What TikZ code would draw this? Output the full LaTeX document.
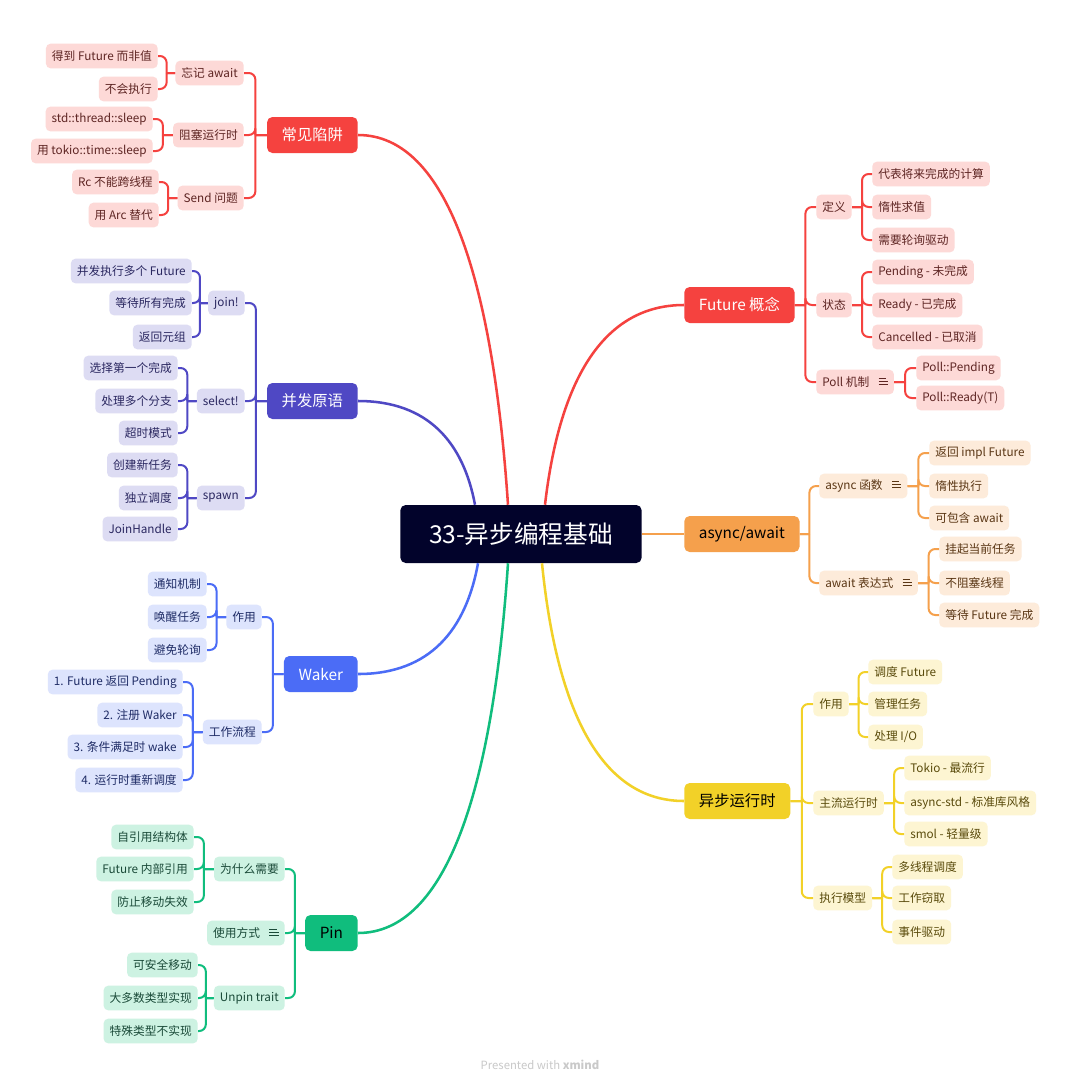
\documentclass[tikz,border=0pt]{standalone}
\usepackage{fontspec}
\setmainfont{Noto Sans CJK SC}
\usepackage{xcolor}
\usetikzlibrary{calc}

\definecolor{rootC}{HTML}{02032B}
\definecolor{redM}{HTML}{F5423F}
\definecolor{redL}{HTML}{FDD9D7}
\definecolor{redT}{HTML}{5E2523}
\definecolor{indM}{HTML}{4F48C4}
\definecolor{indL}{HTML}{DDDCF3}
\definecolor{indT}{HTML}{2A2760}
\definecolor{bluM}{HTML}{4B6CF6}
\definecolor{bluL}{HTML}{DDE4FD}
\definecolor{bluT}{HTML}{1F2C66}
\definecolor{grnM}{HTML}{10BD7D}
\definecolor{grnL}{HTML}{CDF2E2}
\definecolor{grnT}{HTML}{1A4A38}
\definecolor{orgM}{HTML}{F5A04C}
\definecolor{orgL}{HTML}{FDEBDA}
\definecolor{orgT}{HTML}{5A3614}
\definecolor{yelM}{HTML}{F2D128}
\definecolor{yelL}{HTML}{FDF5D2}
\definecolor{yelT}{HTML}{5A4B0C}
\definecolor{footC}{HTML}{C9C9C9}

% small "notes" mark
\newcommand\noteicon{\hspace{7pt}\raisebox{1.2pt}{\vbox{\hrule width 5.5pt height .6pt\vskip1.7pt
  \hrule width 7pt height .6pt\vskip1.7pt\hrule width 7pt height .6pt}}}

% curved main branch: colour, start, end
\newcommand\mainbranch[3]{%
  \draw[mainlk,#1] let \p1=(#2), \p2=(#3) in (\p1)
    .. controls ({\x1+0.1*(\x2-\x1)},{\y1+0.6*(\y2-\y1)}) and ({\x1+0.4*(\x2-\x1)},\y2) .. (\p2);}

\tikzset{
  root/.style={fill=rootC, text=white, rounded corners=4pt, minimum width=181pt,
    minimum height=43.5pt, font=\fontsize{18.5}{20}\selectfont},
  topic/.style={rounded corners=4pt, minimum height=27pt, inner xsep=11pt,
    font=\fontsize{11.5}{13}\selectfont},
  item/.style={rounded corners=3.5pt, minimum height=18.5pt, inner xsep=4.5pt,
    inner ysep=0pt, font=\fontsize{8.8}{10}\selectfont},
  redI/.style={item, fill=redL, text=redT},
  indI/.style={item, fill=indL, text=indT},
  bluI/.style={item, fill=bluL, text=bluT},
  grnI/.style={item, fill=grnL, text=grnT},
  orgI/.style={item, fill=orgL, text=orgT},
  yelI/.style={item, fill=yelL, text=yelT},
  lk/.style={line width=1.5pt, rounded corners=5pt},
  mainlk/.style={line width=1.9pt}
}

\begin{document}
\begin{tikzpicture}[x=0.75pt,y=-0.75pt]
\useasboundingbox[fill=white] (0,0) rectangle (1080,1086);

% ---------- root ----------
\node[root] (root) at (521,534) {33-异步编程基础};

% ---------- 常见陷阱 ----------
\node[topic, fill=redM, text=white, anchor=east] (trap) at (358,135) {常见陷阱};
\node[redI, anchor=east] (forget) at (244,73) {忘记 await};
\node[redI, anchor=east] (block) at (244,135) {阻塞运行时};
\node[redI, anchor=east] (send) at (244,198) {Send 问题};
\node[redI, anchor=east] (t1) at (158,56) {得到 Future 而非值};
\node[redI, anchor=east] (t2) at (158,89) {不会执行};
\node[redI, anchor=east] (t3) at (153,119) {std::thread::sleep};
\node[redI, anchor=east] (t4) at (153,151) {用 tokio::time::sleep};
\node[redI, anchor=east] (t5) at (159,182) {Rc 不能跨线程};
\node[redI, anchor=east] (t6) at (159,215) {用 Arc 替代};

% ---------- 并发原语 ----------
\node[topic, fill=indM, text=white, anchor=east] (conc) at (358,401) {并发原语};
\node[indI, anchor=east] (join) at (245,303) {join!};
\node[indI, anchor=east] (select) at (245,401) {select!};
\node[indI, anchor=east] (spawn) at (245,498) {spawn};
\node[indI, anchor=east] (j1) at (192,271) {并发执行多个 Future};
\node[indI, anchor=east] (j2) at (192,303) {等待所有完成};
\node[indI, anchor=east] (j3) at (192,337) {返回元组};
\node[indI, anchor=east] (s1) at (178,368) {选择第一个完成};
\node[indI, anchor=east] (s2) at (178,401) {处理多个分支};
\node[indI, anchor=east] (s3) at (178,433) {超时模式};
\node[indI, anchor=east] (p1) at (178,465) {创建新任务};
\node[indI, anchor=east] (p2) at (178,498) {独立调度};
\node[indI, anchor=east] (p3) at (178,529) {JoinHandle};

% ---------- Waker ----------
\node[topic, fill=bluM, text=white, anchor=east] (waker) at (358,674) {Waker};
\node[bluI, anchor=east] (wuse) at (262,617) {作用};
\node[bluI, anchor=east] (wflow) at (262,732) {工作流程};
\node[bluI, anchor=east] (w1) at (207,584) {通知机制};
\node[bluI, anchor=east] (w2) at (207,617) {唤醒任务};
\node[bluI, anchor=east] (w3) at (207,650) {避免轮询};
\node[bluI, anchor=east] (f1) at (183,682) {1. Future 返回 Pending};
\node[bluI, anchor=east] (f2) at (183,715) {2. 注册 Waker};
\node[bluI, anchor=east] (f3) at (183,747) {3. 条件满足时 wake};
\node[bluI, anchor=east] (f4) at (183,780) {4. 运行时重新调度};

% ---------- Pin ----------
\node[topic, fill=grnM, text=black, anchor=east] (pin) at (358,933) {Pin};
\node[grnI, anchor=east] (why) at (285,869) {为什么需要};
\node[grnI, anchor=east] (usage) at (285,933) {使用方式\noteicon};
\node[grnI, anchor=east] (unpin) at (285,998) {Unpin trait};
\node[grnI, anchor=east] (y1) at (194,837) {自引用结构体};
\node[grnI, anchor=east] (y2) at (194,869) {Future 内部引用};
\node[grnI, anchor=east] (y3) at (194,902) {防止移动失效};
\node[grnI, anchor=east] (u1) at (198,965) {可安全移动};
\node[grnI, anchor=east] (u2) at (198,998) {大多数类型实现};
\node[grnI, anchor=east] (u3) at (198,1031) {特殊类型不实现};

% ---------- Future 概念 ----------
\node[topic, fill=redM, text=white, anchor=west] (fut) at (684,305) {Future 概念};
\node[redI, anchor=west] (def) at (816,207) {定义};
\node[redI, anchor=west] (state) at (816,305) {状态};
\node[redI, anchor=west] (poll) at (816,382) {Poll 机制\noteicon};
\node[redI, anchor=west] (d1) at (872,174) {代表将来完成的计算};
\node[redI, anchor=west] (d2) at (872,207) {惰性求值};
\node[redI, anchor=west] (d3) at (872,240) {需要轮询驱动};
\node[redI, anchor=west] (st1) at (872,272) {Pending - 未完成};
\node[redI, anchor=west] (st2) at (872,305) {Ready - 已完成};
\node[redI, anchor=west] (st3) at (872,337) {Cancelled - 已取消};
\node[redI, anchor=west] (pl1) at (916,368) {Poll::Pending};
\node[redI, anchor=west] (pl2) at (916,398) {Poll::Ready(T)};

% ---------- async/await ----------
\node[topic, fill=orgM, text=black, anchor=west] (aw) at (684,534) {async/await};
\node[orgI, anchor=west] (afn) at (819,486) {async 函数\noteicon};
\node[orgI, anchor=west] (aexp) at (819,583) {await 表达式\noteicon};
\node[orgI, anchor=west] (a1) at (929,453) {返回 impl Future};
\node[orgI, anchor=west] (a2) at (929,486) {惰性执行};
\node[orgI, anchor=west] (a3) at (929,518) {可包含 await};
\node[orgI, anchor=west] (e1) at (939,549) {挂起当前任务};
\node[orgI, anchor=west] (e2) at (939,583) {不阻塞线程};
\node[orgI, anchor=west] (e3) at (939,615) {等待 Future 完成};

% ---------- 异步运行时 ----------
\node[topic, fill=yelM, text=black, anchor=west] (rt) at (684,801) {异步运行时};
\node[yelI, anchor=west] (ruse) at (813,704) {作用};
\node[yelI, anchor=west] (rmain) at (813,803) {主流运行时};
\node[yelI, anchor=west] (rexec) at (813,898) {执行模型};
\node[yelI, anchor=west] (r1) at (868,672) {调度 Future};
\node[yelI, anchor=west] (r2) at (868,704) {管理任务};
\node[yelI, anchor=west] (r3) at (868,737) {处理 I/O};
\node[yelI, anchor=west] (m1) at (904,768) {Tokio - 最流行};
\node[yelI, anchor=west] (m2) at (904,803) {async-std - 标准库风格};
\node[yelI, anchor=west] (m3) at (904,834) {smol - 轻量级};
\node[yelI, anchor=west] (x1) at (892,867) {多线程调度};
\node[yelI, anchor=west] (x2) at (892,898) {工作窃取};
\node[yelI, anchor=west] (x3) at (892,932) {事件驱动};

% ---------- main curves ----------
\coordinate (o1) at ($(root.north)+(-13,0)$);
\coordinate (o2) at ($(root.north)+(24,0)$);
\coordinate (o3) at ($(root.north)+(-46,0)$);
\coordinate (o4) at ($(root.south)+(-43,0)$);
\coordinate (o5) at ($(root.south)+(-13,0)$);
\coordinate (o6) at ($(root.south)+(21,0)$);
\mainbranch{redM}{o1}{trap.east}
\mainbranch{redM}{o2}{fut.west}
\mainbranch{indM}{o3}{conc.east}
\mainbranch{bluM}{o4}{waker.east}
\mainbranch{grnM}{o5}{pin.east}
\mainbranch{yelM}{o6}{rt.west}
\draw[mainlk, orgM] (root.east) -- (aw.west);

% ---------- left connectors ----------
\foreach \a/\b/\c in {trap/forget/redM, trap/block/redM, trap/send/redM,
    forget/t1/redM, forget/t2/redM, block/t3/redM, block/t4/redM, send/t5/redM, send/t6/redM,
    conc/join/indM, conc/select/indM, conc/spawn/indM,
    join/j1/indM, join/j2/indM, join/j3/indM, select/s1/indM, select/s2/indM, select/s3/indM,
    spawn/p1/indM, spawn/p2/indM, spawn/p3/indM,
    waker/wuse/bluM, waker/wflow/bluM, wuse/w1/bluM, wuse/w2/bluM, wuse/w3/bluM,
    wflow/f1/bluM, wflow/f2/bluM, wflow/f3/bluM, wflow/f4/bluM,
    pin/why/grnM, pin/usage/grnM, pin/unpin/grnM, why/y1/grnM, why/y2/grnM, why/y3/grnM,
    unpin/u1/grnM, unpin/u2/grnM, unpin/u3/grnM}
  \draw[lk, \c] let \p1=($(\a.west)!.5!(\b.east)$), \p2=(\a.west) in
    (\p2) -- (\x1,\y2) (\x1,\y2) |- (\b.east);

% ---------- right connectors ----------
\foreach \a/\b/\c in {fut/def/redM, fut/state/redM, fut/poll/redM,
    def/d1/redM, def/d2/redM, def/d3/redM, state/st1/redM, state/st2/redM, state/st3/redM,
    poll/pl1/redM, poll/pl2/redM,
    aw/afn/orgM, aw/aexp/orgM, afn/a1/orgM, afn/a2/orgM, afn/a3/orgM,
    aexp/e1/orgM, aexp/e2/orgM, aexp/e3/orgM,
    rt/ruse/yelM, rt/rmain/yelM, rt/rexec/yelM, ruse/r1/yelM, ruse/r2/yelM, ruse/r3/yelM,
    rmain/m1/yelM, rmain/m2/yelM, rmain/m3/yelM, rexec/x1/yelM, rexec/x2/yelM, rexec/x3/yelM}
  \draw[lk, \c] let \p1=($(\a.east)!.5!(\b.west)$), \p2=(\a.east) in
    (\p2) -- (\x1,\y2) (\x1,\y2) |- (\b.west);

% ---------- footer ----------
\node[text=footC, font=\fontsize{8.5}{10}\selectfont] (credit) at (540,1065)
  {Presented with \textbf{xmind}};
\end{tikzpicture}
\end{document}
